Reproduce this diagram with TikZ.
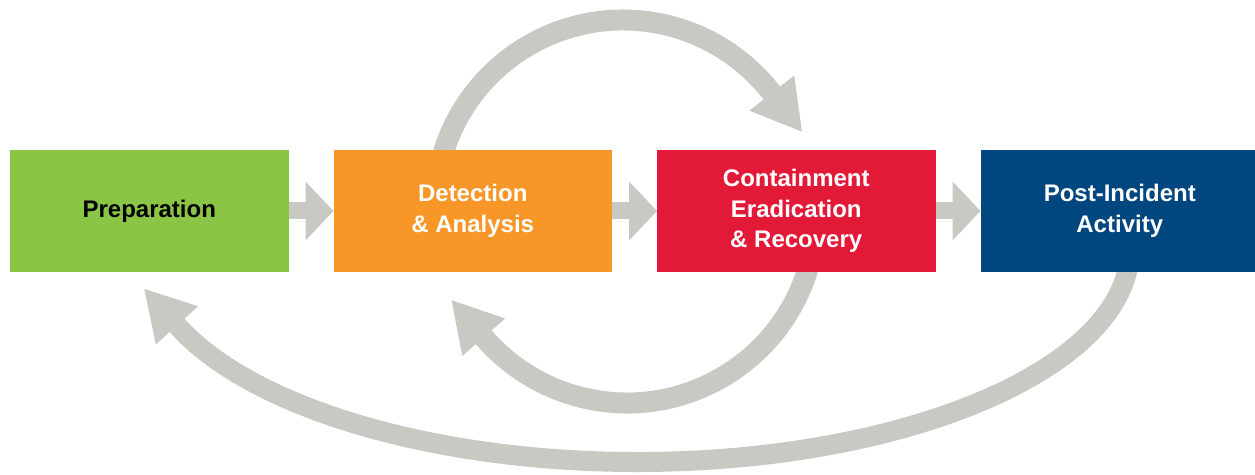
\documentclass[tikz,border=0pt]{standalone}
\usepackage{fontspec}
\setmainfont{Liberation Sans}
\usepackage{xcolor}
\usetikzlibrary{arrows.meta,positioning,backgrounds}

\definecolor{prepgreen}{RGB}{139,197,69}
\definecolor{detorange}{RGB}{248,150,40}
\definecolor{contred}{RGB}{227,25,56}
\definecolor{postblue}{RGB}{0,70,127}
\definecolor{arrowgray}{RGB}{201,201,196}

\begin{document}
\begin{tikzpicture}[
    x=1pt, y=1pt,
    node distance=45pt,
    every node/.style={minimum width=278.5pt, minimum height=122pt, inner sep=0pt, outer sep=0pt, align=center, font=\fontsize{24}{30.5}\selectfont\bfseries},
    prepstage/.style={fill=prepgreen, text=black},
    detectstage/.style={fill=detorange, text=white},
    containstage/.style={fill=contred, text=white},
    poststage/.style={fill=postblue, text=white},
    flow/.style={draw=arrowgray, line width=17pt, -{Triangle[length=28pt, width=59pt, line width=0pt]}},
    feedback/.style={draw=arrowgray, line width=21pt, -{Triangle[length=49pt, width=57pt, line width=0pt]}}
]
\useasboundingbox (0,0) rectangle (1255,474);

% Phases
\node[prepstage] (prep) at (149.25,263) {Preparation};
\node[detectstage, right=of prep] (detect) {Detection\\\& Analysis};
\node[containstage, right=of detect] (contain) {Containment\\Eradication\\\& Recovery};
\node[poststage, right=of contain] (post) {Post-Incident\\Activity};

% Forward steps
\draw[flow] (prep) -- (detect);
\draw[flow] (detect) -- (contain);
\draw[flow] (contain) -- (post);

% Feedback loops
\begin{scope}[on background layer]
\draw[feedback] ([shift={(-30.45pt,-6.2pt)}]detect.north) arc[start angle=164, end angle=38, radius=188pt] -- ++(-52:50pt);
\draw[feedback] ([shift={(13.35pt,9.1pt)}]contain.south) arc[start angle=-15, end angle=-139, radius=189pt] -- ++(131:50pt);
\draw[feedback, line width=20pt] ([shift={(9.05pt,8.6pt)}]post.south) arc[start angle=-4, end angle=-158.7, x radius=493pt, y radius=213.5pt] -- ++(132:50pt);
\end{scope}
\end{tikzpicture}
\end{document}
